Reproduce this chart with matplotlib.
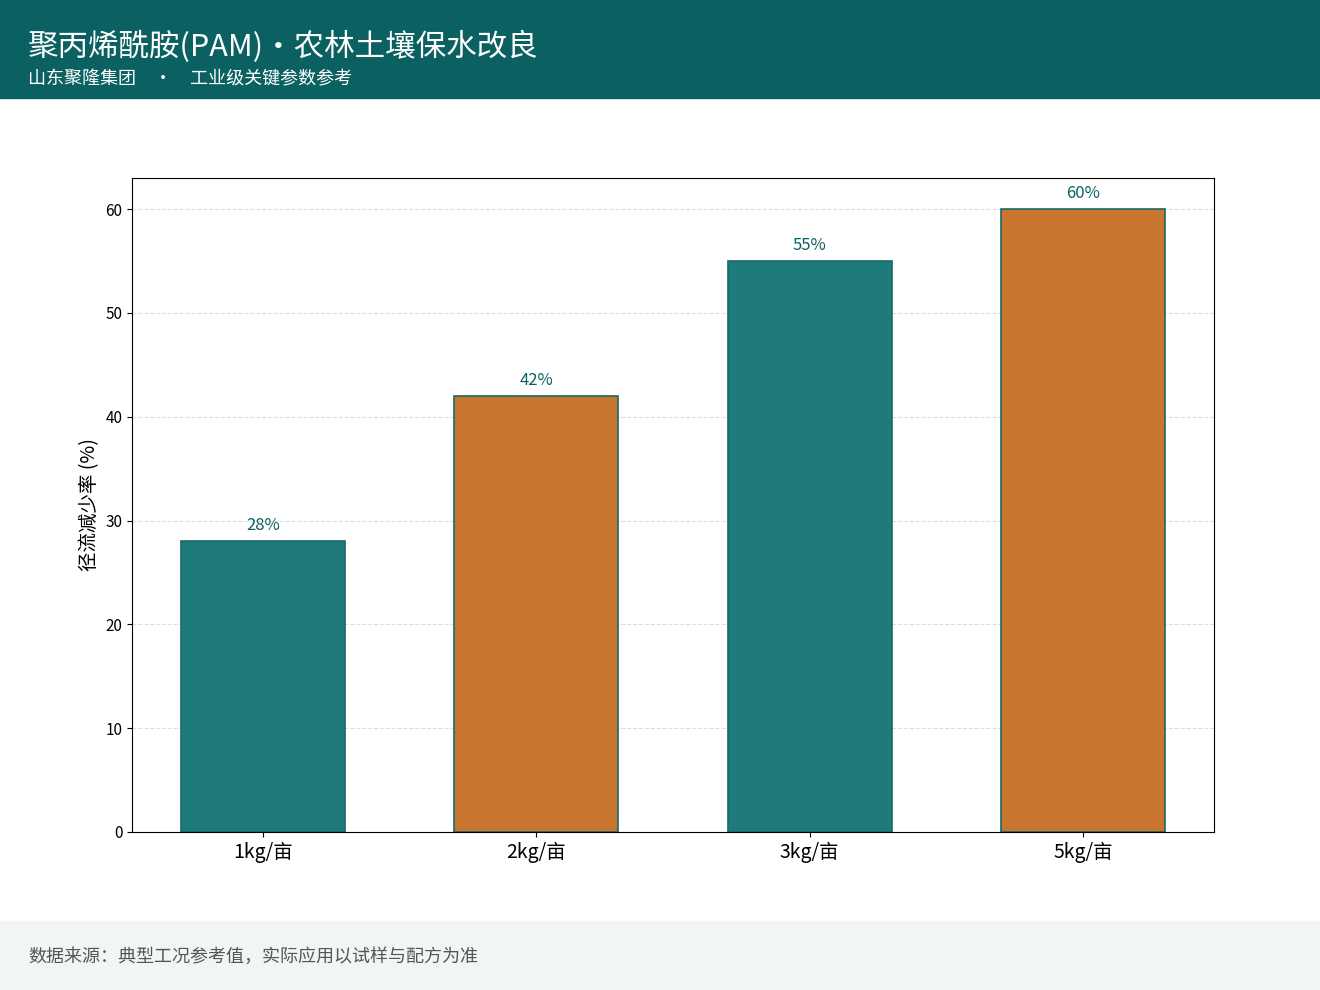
import matplotlib
matplotlib.use('Agg')
import matplotlib.pyplot as plt
from matplotlib.patches import Rectangle

plt.rcParams['font.family'] = ['Noto Sans CJK SC', 'DejaVu Sans']

# data
categories = ['1kg/亩', '2kg/亩', '3kg/亩', '5kg/亩']
values = [28, 42, 55, 60]
bar_colors = ['#1f7b7a', '#c8762f', '#1f7b7a', '#c8762f']

title = '聚丙烯酰胺(PAM)・农林土壤保水改良'
subtitle = '山东聚隆集团　·　工业级关键参数参考'
footer = '数据来源：典型工况参考值，实际应用以试样与配方为准'

fig = plt.figure(figsize=(13.2, 9.9), dpi=100)

# header band
fig.patches.append(Rectangle((0, 1 - 98 / 990), 1, 98 / 990, transform=fig.transFigure,
                             color='#0b6161', zorder=0))
fig.text(28 / 1320, 1 - 47 / 990, title, color='white', fontsize=22, va='center', ha='left')
fig.text(28 / 1320, 1 - 79 / 990, subtitle, color='white', fontsize=13, va='center', ha='left')

# footer band
fig.patches.append(Rectangle((0, 0), 1, 69 / 990, transform=fig.transFigure,
                             color='#f2f5f5', zorder=0))
fig.text(28 / 1320, 33 / 990, footer, color='#555555', fontsize=13, va='center', ha='left')

ax = fig.add_axes([132 / 1320, 1 - 832 / 990, (1214 - 132) / 1320, (832 - 178) / 990])
x = range(len(categories))
bars = ax.bar(x, values, width=0.6, color=bar_colors, edgecolor='#1a6868', linewidth=1.2, zorder=2)
for b, v in zip(bars, values):
    ax.text(b.get_x() + b.get_width() / 2, v + 0.7, f'{v}%', ha='center', va='bottom',
            color='#0b6161', fontsize=12)

ax.set_ylim(0, 63)
ax.set_xticks(list(x))
ax.set_xticklabels(categories, fontsize=14)
ax.tick_params(axis='y', labelsize=11)
ax.set_ylabel('径流减少率 (%)', fontsize=14)
ax.yaxis.grid(True, linestyle='--', color='#dddddd', linewidth=0.8, zorder=0)
ax.set_axisbelow(True)

fig.savefig('out.png', dpi=100)
